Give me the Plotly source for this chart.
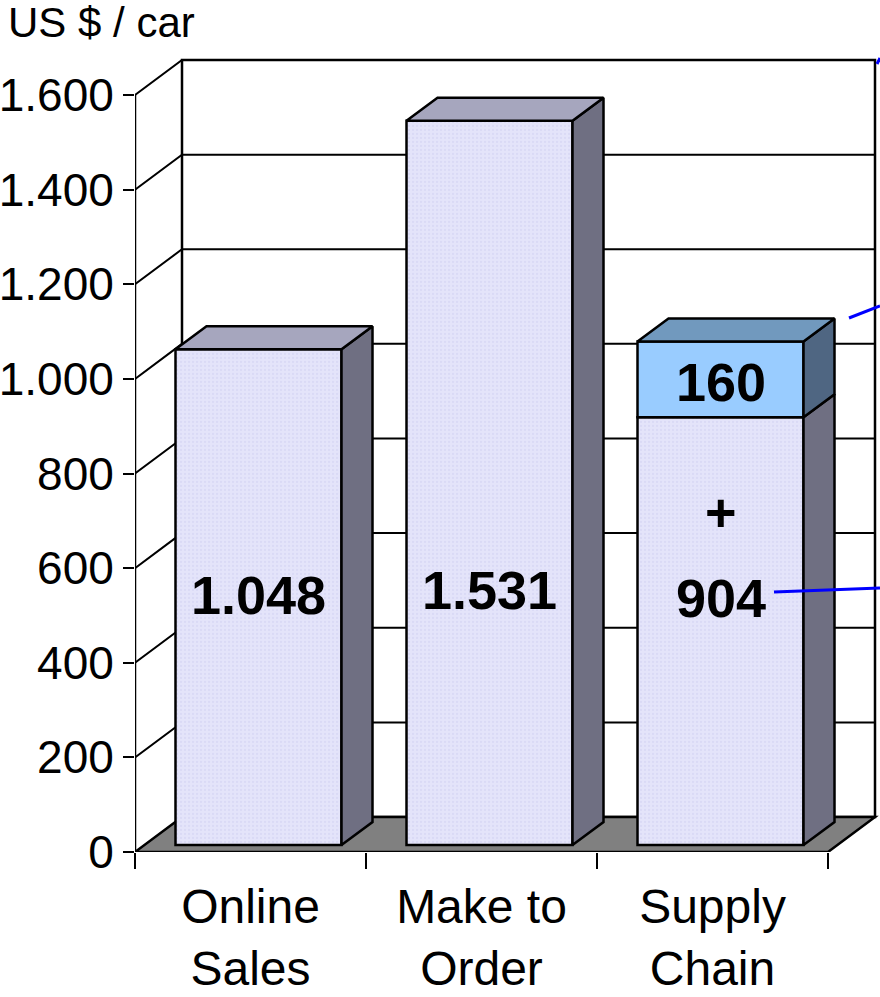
import plotly.graph_objects as go

# ---------------- data ----------------
categories = ["Online<br>Sales", "Make to<br>Order", "Supply<br>Chain"]
base_values = [1048, 1531, 904]
extra_values = [0, 0, 160]
base_labels = ["1.048", "1.531", "904"]
extra_labels = ["", "", "160"]
y_tick_values = [0, 200, 400, 600, 800, 1000, 1200, 1400, 1600]
y_tick_labels = ["0", "200", "400", "600", "800", "1.000", "1.200", "1.400", "1.600"]
y_title = "US $ / car"

# ---------------- geometry (3D look) ----------------
PX_X = 231.0              # pixels per category
PX_Y = 757.0 / 1600.0     # pixels per value unit
X0 = -0.5
X_MAX = X0 + 745.0 / PX_X
Y_MAX = 812.0 / PX_Y
WDX, WDY = 47.0 / PX_X, 35.0 / PX_Y     # wall depth
OFF_DX, OFF_DY = 8.0 / PX_X, 7.0 / PX_Y # bar front offset
BAR_W = 166.0 / PX_X
BDX, BDY = 31.0 / PX_X, 23.0 / PX_Y     # bar depth
X_END = X0 + len(categories)
Y_TOP = y_tick_values[-1]

# label placement (value units along bar)
label_y = [(852 - 595) / PX_Y, (852 - 590) / PX_Y, (852 - 598) / PX_Y]
plus_y = (852 - 512) / PX_Y
extra_label_y = (852 - 382) / PX_Y

FRONT = "#E4E4FA"
SIDE = "#6F6F82"
TOP = "#A6A6BE"
BLUE_FRONT = "#99CCFF"
BLUE_SIDE = "#4F6682"
BLUE_TOP = "#7199BE"
FONT = "Liberation Sans, Arial, sans-serif"

fig = go.Figure()

xc = [i + OFF_DX for i in range(len(categories))]

fig.add_trace(go.Bar(
    x=xc, y=base_values, base=[OFF_DY] * len(base_values), width=BAR_W,
    marker=dict(color=FRONT, line=dict(color="black", width=2.5),
                pattern=dict(shape=".", fgcolor="#CFCFF2", bgcolor=FRONT, size=4, solidity=0.25)),
    hoverinfo="skip", showlegend=False))

ex_x = [xc[i] for i, v in enumerate(extra_values) if v > 0]
ex_y = [v for v in extra_values if v > 0]
ex_b = [OFF_DY + base_values[i] for i, v in enumerate(extra_values) if v > 0]
fig.add_trace(go.Bar(
    x=ex_x, y=ex_y, base=ex_b, width=BAR_W,
    marker=dict(color=BLUE_FRONT, line=dict(color="black", width=2.5)),
    hoverinfo="skip", showlegend=False))

def poly(xs, ys, color):
    fig.add_trace(go.Scatter(x=xs, y=ys, mode="lines", fill="toself", fillcolor=color,
                             line=dict(color="black", width=2.5), hoverinfo="skip",
                             showlegend=False))

for i in range(len(categories)):
    xl = xc[i] - BAR_W / 2
    xr = xc[i] + BAR_W / 2
    segs = [(OFF_DY, OFF_DY + base_values[i], SIDE, TOP)]
    if extra_values[i] > 0:
        b = OFF_DY + base_values[i]
        segs.append((b, b + extra_values[i], BLUE_SIDE, BLUE_TOP))
    for (b, t, sc, tc) in segs:
        poly([xr, xr + BDX, xr + BDX, xr, xr], [b, b + BDY, t + BDY, t, b], sc)
    b, t, sc, tc = segs[-1]
    poly([xl, xl + BDX, xr + BDX, xr, xl], [t, t + BDY, t + BDY, t, t], tc)

# ---------------- walls, floor, grid ----------------
shapes = []
# back wall
shapes.append(dict(type="rect", xref="x", yref="y", x0=X0 + WDX, x1=X_END + WDX,
                   y0=WDY, y1=Y_TOP + WDY, fillcolor="white",
                   line=dict(color="black", width=2.5), layer="below"))
# floor
shapes.append(dict(type="path", xref="x", yref="y",
                   path=f"M {X0},0 L {X_END},0 L {X_END + WDX},{WDY} L {X0 + WDX},{WDY} Z",
                   fillcolor="#808080", line=dict(color="black", width=2.5), layer="below"))
# grid lines (side wall diagonal + back wall)
for v in y_tick_values[1:]:
    shapes.append(dict(type="path", xref="x", yref="y",
                       path=f"M {X0},{v} L {X0 + WDX},{v + WDY} L {X_END + WDX},{v + WDY}",
                       line=dict(color="black", width=2), layer="below"))
# front vertical axis line
shapes.append(dict(type="line", xref="x", yref="y", x0=X0, x1=X0, y0=0, y1=Y_TOP,
                   line=dict(color="black", width=2.5), layer="below"))
# blue leader lines
blue = dict(color="#0000FF", width=3)
shapes.append(dict(type="line", xref="x", yref="y",
                   x0=X0 + (774 - 135) / PX_X, y0=(852 - 592) / PX_Y,
                   x1=X_MAX, y1=(852 - 588) / PX_Y, line=blue))
shapes.append(dict(type="line", xref="x", yref="y",
                   x0=X0 + (849 - 135) / PX_X, y0=(852 - 318) / PX_Y,
                   x1=X_MAX, y1=(852 - 306) / PX_Y, line=blue))
shapes.append(dict(type="line", xref="x", yref="y",
                   x0=X0 + (877 - 135) / PX_X, y0=(852 - 64) / PX_Y,
                   x1=X_MAX, y1=(852 - 58) / PX_Y, line=blue))

# ---------------- labels ----------------
annotations = []
for i in range(len(categories)):
    annotations.append(dict(x=xc[i], y=label_y[i], xref="x", yref="y", text=f"<b>{base_labels[i]}</b>",
                            showarrow=False, font=dict(family=FONT, size=54, color="black")))
    if extra_values[i] > 0:
        annotations.append(dict(x=xc[i], y=extra_label_y, xref="x", yref="y",
                                text=f"<b>{extra_labels[i]}</b>", showarrow=False,
                                font=dict(family=FONT, size=54, color="black")))
        annotations.append(dict(x=xc[i], y=plus_y, xref="x", yref="y", text="<b>+</b>",
                                showarrow=False, font=dict(family=FONT, size=54, color="black")))

fig.update_layout(
    width=880, height=997,
    margin=dict(l=135, r=0, t=40, b=145),
    paper_bgcolor="white", plot_bgcolor="white",
    barmode="overlay",
    showlegend=False,
    shapes=shapes,
    annotations=annotations,
    font=dict(family=FONT, color="black"),
    title=dict(text=y_title, x=8 / 880, xref="container", xanchor="left",
               y=1 - 22 / 997, yref="container", yanchor="middle",
               font=dict(family=FONT, size=42, color="black")),
    xaxis=dict(range=[X0, X_MAX], showgrid=False, zeroline=False, showline=False,
               tickvals=list(range(len(categories))), ticktext=categories, ticks="",
               tickfont=dict(family=FONT, size=48, color="black"),
               ticklabelstandoff=22,
               minor=dict(tick0=X0, dtick=1, ticks="outside", ticklen=16, tickwidth=2,
                          tickcolor="black", showgrid=False)),
    yaxis=dict(range=[0, Y_MAX], showgrid=False, zeroline=False, showline=False,
               tickvals=y_tick_values, ticktext=y_tick_labels, ticks="outside",
               ticklen=11, tickwidth=2, tickcolor="black",
               tickfont=dict(family=FONT, size=46, color="black")),
)

fig.write_html("out.html")
